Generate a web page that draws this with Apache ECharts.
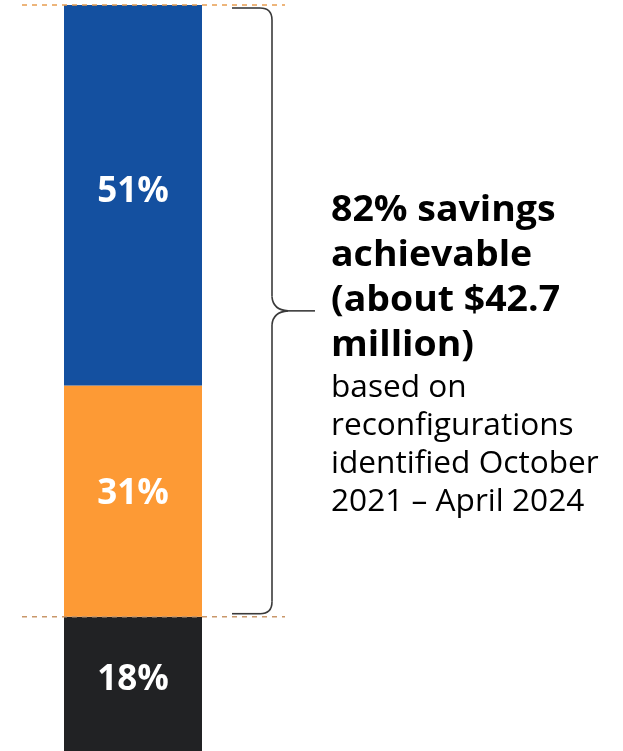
<!DOCTYPE html>
<html>
<head>
<meta charset="utf-8">
<style>
  html, body { margin: 0; padding: 0; background: #ffffff; }
  #chart { width: 623px; height: 751px; }
</style>
<script src="https://cdn.jsdelivr.net/npm/echarts@6/dist/echarts.min.js"></script>
</head>
<body>
<div id="chart"></div>
<script>
// ---- data ----
var categories = ['Savings'];
var segmentNames = ['Not achievable', 'Achievable (part 2)', 'Achievable (part 1)'];
var segmentValues = [18, 31, 51];
var segmentColors = ['#212224', '#fd9a35', '#1450a0'];
var labelOffsets = [-4, -7, -3];
var braceFrom = 18;   // lower bound of bracketed range (%)
var braceTo = 100;    // upper bound of bracketed range (%)
var boldLines = ['82% savings', 'achievable', '(about $42.7', 'million)'];
var plainLines = ['based on', 'reconfigurations', 'identified October', '2021 \u2013 April 2024'];

var chart = echarts.init(document.getElementById('chart'), null, { renderer: 'canvas' });

var series = segmentValues.map(function (v, i) {
  return {
    name: segmentNames[i],
    type: 'bar',
    stack: 'total',
    barWidth: 138,
    data: [v],
    itemStyle: { color: segmentColors[i] },
    label: {
      show: true,
      position: 'inside',
      formatter: '{c}%',
      color: '#ffffff',
      fontFamily: 'Open Sans',
      fontWeight: 'bold',
      fontSize: 35,
      offset: [0, labelOffsets[i]]
    },
    silent: true
  };
});

chart.setOption({
  animation: false,
  grid: { left: 64, top: 5, width: 138, bottom: 0 },
  xAxis: { type: 'category', data: categories, show: false },
  yAxis: { type: 'value', min: 0, max: 100, show: false },
  series: series
});

function drawAnnotations() {
  var yTop = chart.convertToPixel({ gridIndex: 0 }, [0, braceTo])[1];
  var yBot = chart.convertToPixel({ gridIndex: 0 }, [0, braceFrom])[1];
  var mid = (yTop + yBot) / 2;
  var bx = 272, tip = 315, curlX = 232;
  var t = yTop + 3, b = yBot - 3;
  var braceStyle = { stroke: '#3a3a3a', lineWidth: 1.6, fill: null };

  var elements = [
    {
      type: 'line', z: 10,
      shape: { x1: 22, y1: yTop, x2: 285, y2: yTop },
      style: { stroke: '#e89d50', lineWidth: 1.5, lineDash: [5, 5] }
    },
    {
      type: 'line', z: 10,
      shape: { x1: 22, y1: yBot, x2: 285, y2: yBot },
      style: { stroke: '#c9976a', lineWidth: 1.5, lineDash: [5, 5] }
    },
    { type: 'line', z: 11, shape: { x1: curlX, y1: t, x2: bx - 12, y2: t }, style: braceStyle },
    { type: 'bezierCurve', z: 11, shape: { x1: bx - 12, y1: t, cpx1: bx, cpy1: t, x2: bx, y2: t + 12 }, style: braceStyle },
    { type: 'line', z: 11, shape: { x1: bx, y1: t + 12, x2: bx, y2: mid - 14 }, style: braceStyle },
    { type: 'bezierCurve', z: 11, shape: { x1: bx, y1: mid - 14, cpx1: bx + 1, cpy1: mid - 1, x2: bx + 16, y2: mid }, style: braceStyle },
    { type: 'line', z: 11, shape: { x1: bx + 16, y1: mid, x2: tip, y2: mid }, style: braceStyle },
    { type: 'bezierCurve', z: 11, shape: { x1: bx + 16, y1: mid, cpx1: bx + 1, cpy1: mid + 1, x2: bx, y2: mid + 14 }, style: braceStyle },
    { type: 'line', z: 11, shape: { x1: bx, y1: mid + 14, x2: bx, y2: b - 12 }, style: braceStyle },
    { type: 'bezierCurve', z: 11, shape: { x1: bx, y1: b - 12, cpx1: bx, cpy1: b, x2: bx - 12, y2: b }, style: braceStyle },
    { type: 'line', z: 11, shape: { x1: bx - 12, y1: b, x2: curlX, y2: b }, style: braceStyle }
  ];

  boldLines.forEach(function (txt, i) {
    elements.push({
      type: 'text', z: 12,
      x: 331, y: 211 + i * 45,
      scaleX: 1.07,
      style: {
        text: txt, fill: '#000000',
        font: 'bold 35px "Open Sans"',
        textAlign: 'left', textVerticalAlign: 'middle'
      }
    });
  });
  plainLines.forEach(function (txt, i) {
    elements.push({
      type: 'text', z: 12,
      x: 331, y: 388 + i * 38,
      scaleX: 1.02,
      style: {
        text: txt, fill: '#000000',
        font: '31px "Open Sans"',
        textAlign: 'left', textVerticalAlign: 'middle'
      }
    });
  });

  chart.setOption({ graphic: elements });
}
drawAnnotations();
</script>
</body>
</html>
